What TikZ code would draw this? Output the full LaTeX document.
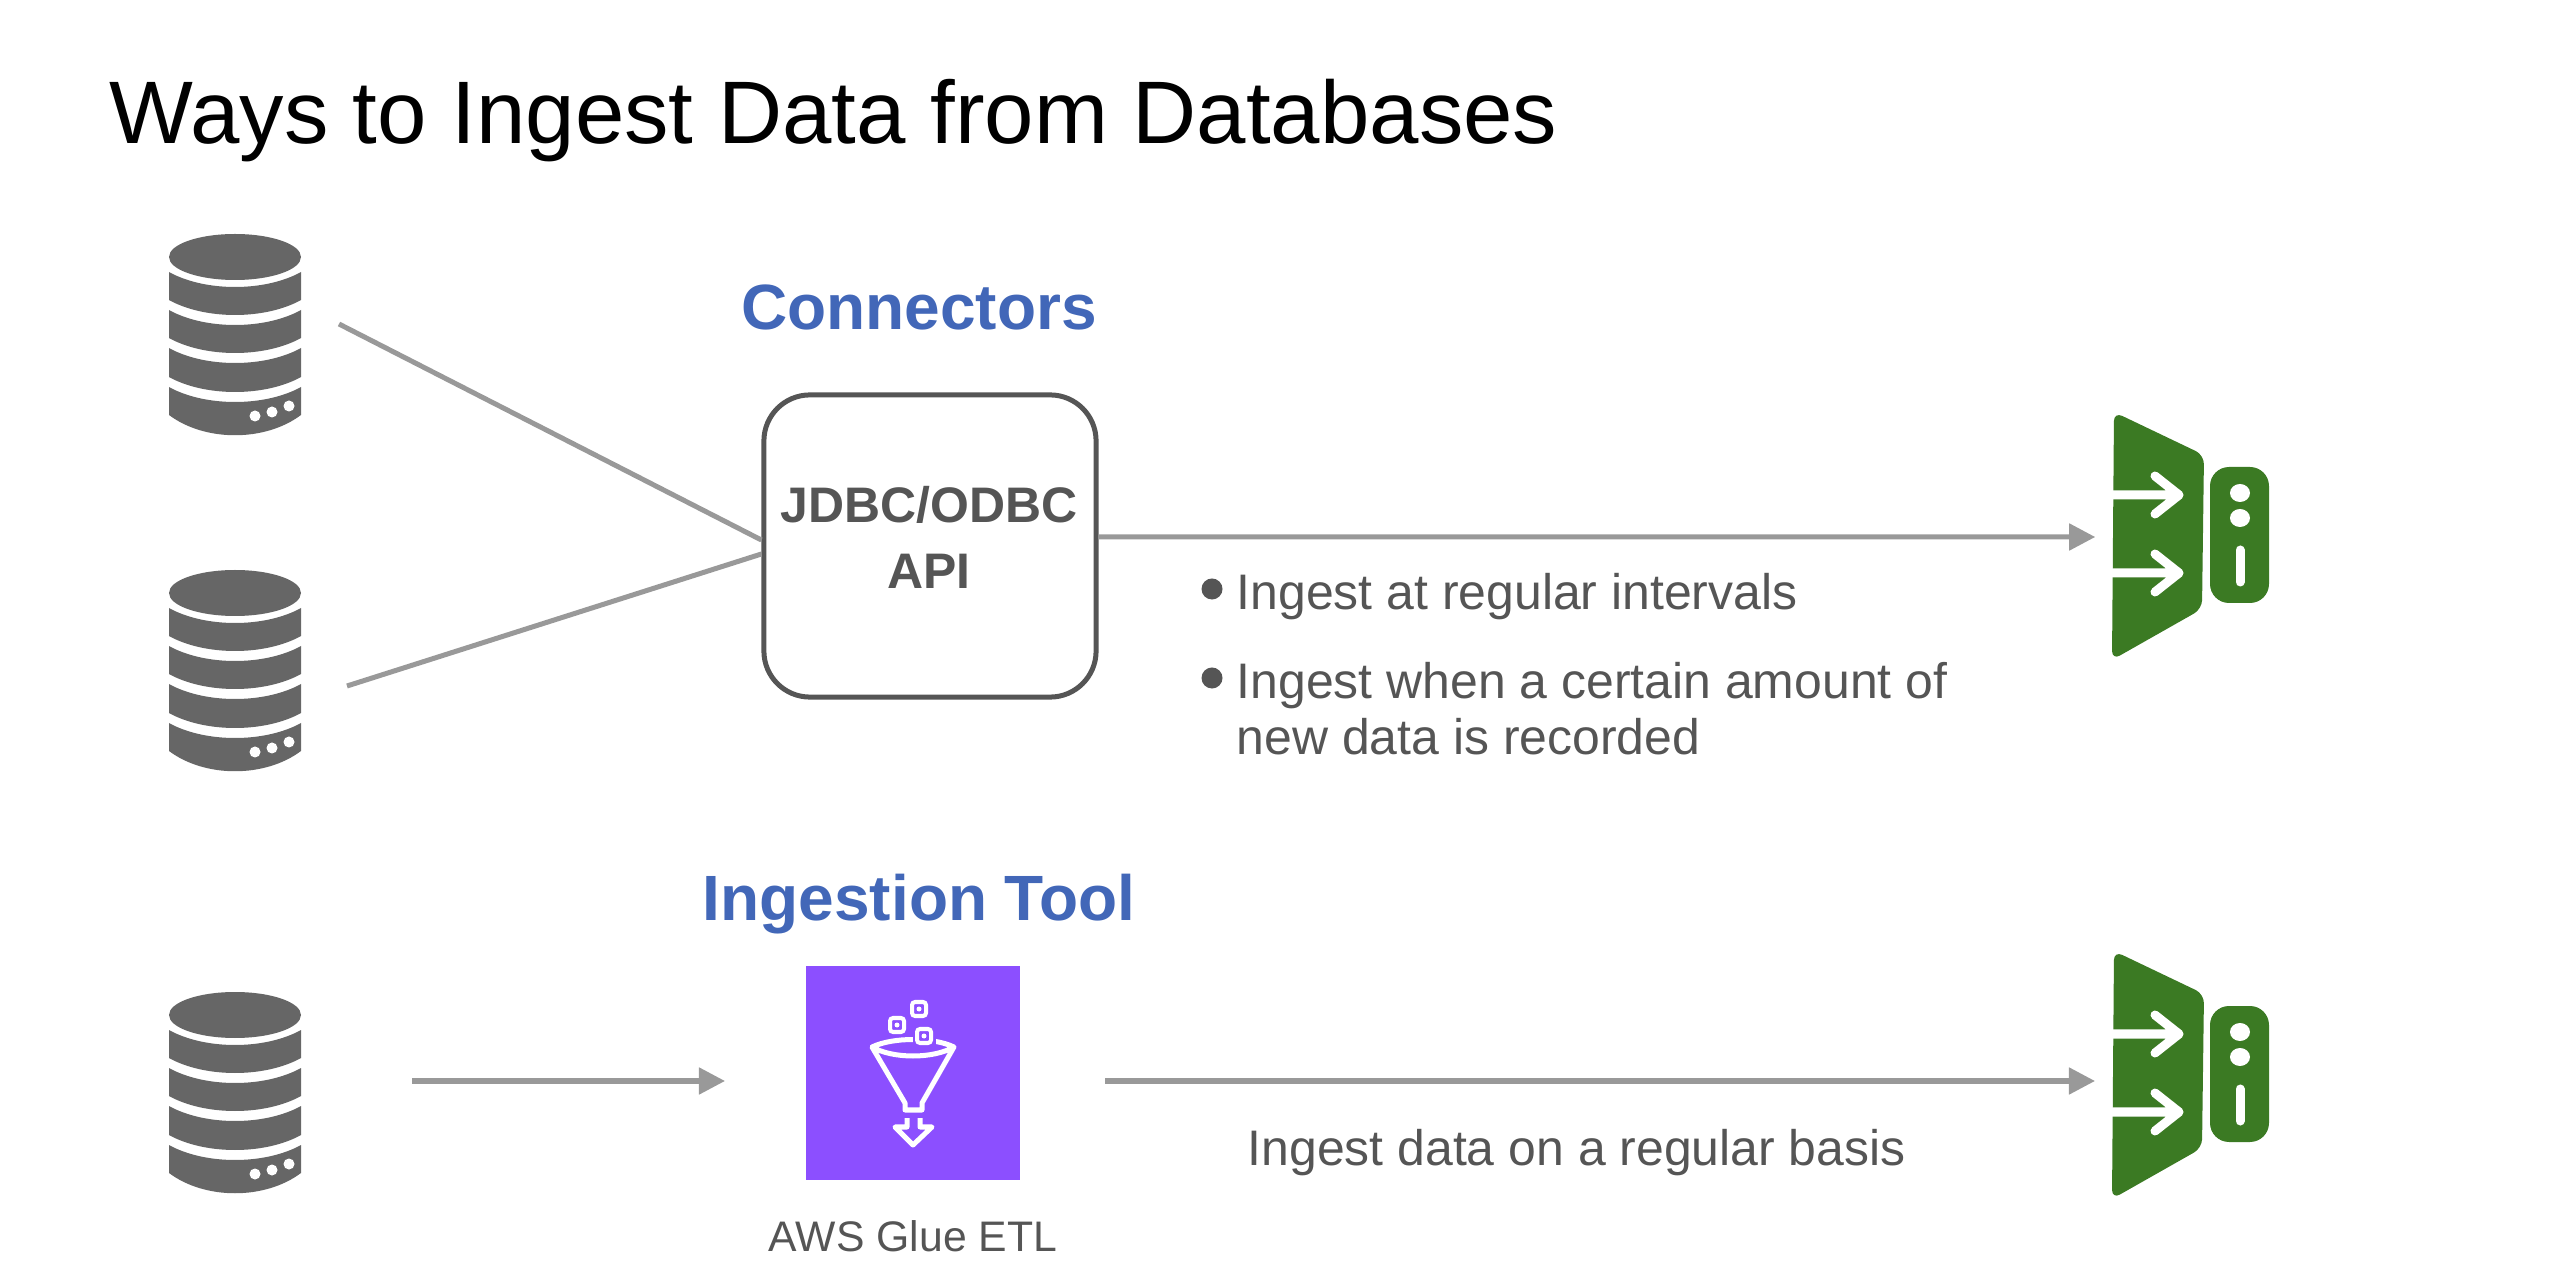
\documentclass[tikz,border=0pt]{standalone}
\usepackage{fontspec}
\setmainfont{Liberation Sans}
\usetikzlibrary{arrows.meta}
\definecolor{dbgrey}{HTML}{666666}
\definecolor{txtgrey}{HTML}{555555}
\definecolor{linegrey}{HTML}{999999}
\definecolor{headblue}{HTML}{4267B8}
\definecolor{gluepurple}{HTML}{8C4FFF}
\definecolor{gwgreen}{HTML}{3B7A23}
\tikzset{
	flow/.style={draw=linegrey, line width=0.5mm},
	flowarrow/.style={flow, -{Triangle[length=2.6mm,width=2.6mm]}},
	headtext/.style={text=headblue, anchor=base, inner sep=0pt, font=\fontsize{18.2}{22}\selectfont\bfseries},
	bodytext/.style={text=txtgrey, font=\fontsize{14.2}{16.2}\selectfont, anchor=base west, inner sep=0pt, align=left},
	bulletdot/.style={circle, fill=txtgrey, minimum size=2.1mm, inner sep=0pt},
	hubbox/.style={draw=txtgrey, line width=0.5mm, rounded corners=4.6mm, minimum width=33.2mm, minimum height=30.2mm, inner sep=0pt},
	dbnode/.style={minimum width=13.4mm, minimum height=20.2mm, inner sep=0pt},
	gwnode/.style={minimum width=15.4mm, minimum height=23.8mm, inner sep=0pt},
	gluebox/.style={fill=gluepurple, minimum width=21.4mm, minimum height=21.4mm, inner sep=0pt},
	dbicon/.pic={
		\fill[dbgrey] (0,-77) circle [x radius=66, y radius=23];
		\foreach \a/\b in {-62/-34, -24/4, 14/43}
			\fill[dbgrey] (-66,\a) .. controls (-30,\a+20) and (30,\a+20) .. (66,\a) -- (66,\b) .. controls (30,\b+20) and (-30,\b+20) .. (-66,\b) -- cycle;
		\fill[dbgrey] (-66,53) .. controls (-30,73) and (30,73) .. (66,53) -- (66,81) .. controls (30,108) and (-30,108) .. (-66,81) -- cycle;
		\foreach \x/\y in {20/82, 37/78, 54/72}
			\fill[white] (\x,\y) circle [radius=5.5];
	},
	gwicon/.pic={
		\fill[gwgreen, rounded corners=0.9mm] (-76,-125) -- (14,-82) -- (12,72) -- (-78,123) -- cycle;
		\foreach \y in {-42,36}
			\draw[white, line width=0.09cm, line cap=round, line join=round] (-78,\y) -- (-11,\y) (-35,\y-19) -- (-11,\y) -- (-35,\y+19);
		\fill[gwgreen, rounded corners=1.9mm] (20,-70) rectangle (79,66);
		\fill[white] (50,-44) circle [x radius=10, y radius=9];
		\fill[white] (50,-19) circle [x radius=10, y radius=9];
		\draw[white, line width=0.09cm, line cap=round] (50,13) -- (50,45);
	},
	funnelicon/.pic={
		\draw[white, line width=0.05cm, line join=round] (-41,-26) .. controls (-20,-36) and (20,-36) .. (41,-26) .. controls (20,-14) and (-20,-14) .. (-41,-26) -- (-8,30) -- (-8,37) -- (9,37) -- (9,30) -- (41,-26);
		\foreach \x/\y in {6/-64, -16/-48, 11/-37} {
			\draw[gluepurple, fill=gluepurple, line width=0.09cm] (\x-7,\y-7) rectangle (\x+7,\y+7);
			\draw[white, line width=0.04cm, rounded corners=0.3mm] (\x-7,\y-7) rectangle (\x+7,\y+7);
			\fill[white] (\x,\y) circle [radius=2.5];
		}
		\draw[white, line width=0.05cm, line join=round] (-6,45) -- (-6,54) -- (-18,54) -- (0,72) -- (19,54) -- (7,54) -- (7,45);
	}
}
\begin{document}
\begin{tikzpicture}[x=0.01cm, y=-0.01cm]
	\useasboundingbox (0,0) rectangle (2556,1270);
	\node (title) at (109,144) [anchor=base west, inner sep=0pt, font=\fontsize{25.25}{30}\selectfont] {Ways to Ingest Data from Databases};
	\node (dbA) at (235,334) [dbnode] {};
	\node (dbB) at (235,670) [dbnode] {};
	\node (dbC) at (235,1092) [dbnode] {};
	\pic at (dbA) {dbicon};
	\pic at (dbB) {dbicon};
	\pic at (dbC) {dbicon};
	\node (connhead) at (919,330) [headtext] {Connectors};
	\node (hub) at (930,546) [hubbox] {};
	\node (hublabel) at (929,589) [anchor=base, inner sep=0pt, align=center, text=txtgrey, font=\fontsize{14.2}{19}\selectfont\bfseries] {JDBC/ODBC\\API};
	\node (gwA) at (2190,537) [gwnode] {};
	\pic at (gwA) {gwicon};
	\coordinate (dbAout) at (339,324);
	\coordinate (dbBout) at (347,686);
	\draw[flow] (dbAout) -- ([yshift=0.06cm]hub.west);
	\draw[flow] (dbBout) -- ([yshift=-0.08cm]hub.west);
	\draw[flowarrow, shorten >=0.17cm] ([yshift=0.09cm]hub.east) -- ([yshift=0cm]gwA.west);
	\node (dotA) at (1212,589) [bulletdot] {};
	\node (noteA) at (1236,610) [bodytext] {Ingest at regular intervals};
	\node (dotB) at (1212,678) [bulletdot] {};
	\node (noteB) at (1236,755) [bodytext] {Ingest when a certain amount of\\new data is recorded};
	\node (toolhead) at (919,921) [headtext] {Ingestion Tool};
	\node (glue) at (913,1073) [gluebox] {};
	\pic at (glue) {funnelicon};
	\node (gluelabel) at (913,1251) [anchor=base, inner sep=0pt, text=txtgrey, font=\fontsize{12.15}{15}\selectfont] {AWS Glue ETL};
	\node (gwB) at (2190,1076) [gwnode] {};
	\pic at (gwB) {gwicon};
	\coordinate (dbCout) at (412,1081);
	\coordinate (gluein) at (725,1081);
	\coordinate (glueout) at (1105,1081);
	\coordinate (gwBin) at (2095,1081);
	\draw[flowarrow] (dbCout) -- (gluein);
	\draw[flowarrow] (glueout) -- (gwBin);
	\node (noteC) at (1247,1165) [bodytext] {Ingest data on a regular basis};
\end{tikzpicture}
\end{document}
